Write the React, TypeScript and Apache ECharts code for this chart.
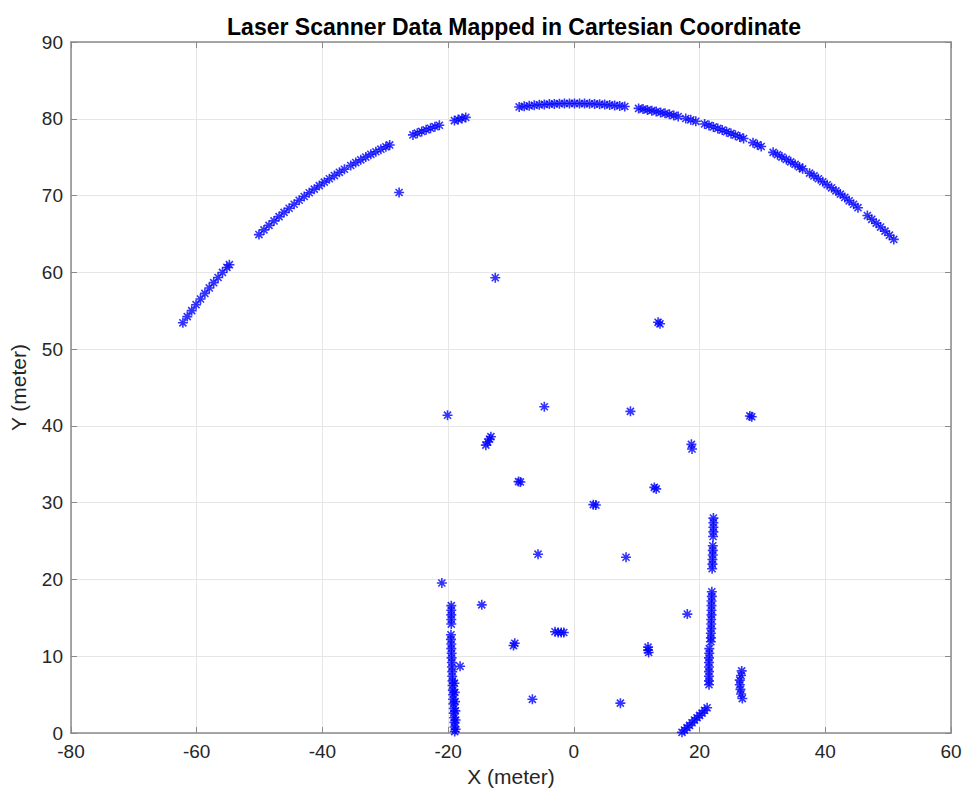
import React, { useEffect, useRef } from "react";
import * as echarts from "echarts";

const titleText = "Laser Scanner Data Mapped in Cartesian Coordinate";
const xName = "X (meter)";
const yName = "Y (meter)";
const xTicks = [-80, -60, -40, -20, 0, 20, 40, 60];
const yTicks = [0, 10, 20, 30, 40, 50, 60, 70, 80, 90];

// Outer arc (far wall), read segment by segment
const arcLeft: [number, number][] = [
  [-62.2, 53.43], [-61.5, 54.24], [-60.8, 55.02], [-60.1, 55.79], [-59.4, 56.53],
  [-58.7, 57.26], [-58.0, 57.97], [-57.3, 58.66], [-56.6, 59.33], [-55.9, 59.99],
  [-55.2, 60.64], [-54.8, 61.0],
  [-50.1, 64.92], [-49.3, 65.53], [-48.5, 66.12], [-47.7, 66.7], [-46.9, 67.26],
  [-46.1, 67.81], [-45.3, 68.35], [-44.5, 68.87], [-43.7, 69.39], [-42.9, 69.88],
  [-42.1, 70.37], [-41.3, 70.84], [-40.5, 71.3], [-39.7, 71.75], [-38.9, 72.19],
  [-38.1, 72.61], [-37.3, 73.03], [-36.5, 73.43], [-35.5, 73.92], [-34.7, 74.3],
  [-33.9, 74.66], [-33.1, 75.02], [-32.3, 75.37], [-31.5, 75.71], [-30.7, 76.04],
  [-29.9, 76.35], [-29.3, 76.59],
  [-25.6, 77.9], [-24.9, 78.13], [-24.2, 78.35], [-23.5, 78.56], [-22.8, 78.77],
  [-22.1, 78.97], [-21.4, 79.16],
  [-19.0, 79.77], [-18.4, 79.91], [-17.8, 80.04], [-17.2, 80.18],
];

const arcTop: [number, number][] = [
  [-8.7, 81.54], [-7.9, 81.62], [-7.1, 81.69], [-6.3, 81.76], [-5.5, 81.82],
  [-4.7, 81.87], [-3.9, 81.91], [-3.1, 81.94], [-2.3, 81.97], [-1.5, 81.99],
  [-0.7, 82.0], [0.1, 82.0], [0.9, 81.99], [1.7, 81.98], [2.5, 81.96],
  [3.3, 81.93], [4.1, 81.9], [4.9, 81.85], [5.7, 81.8], [6.5, 81.74],
  [7.3, 81.67], [8.1, 81.6],
];

const arcRight: [number, number][] = [
  [10.3, 81.35], [11.0, 81.26], [11.7, 81.16], [12.4, 81.06], [13.1, 80.95],
  [13.8, 80.83], [14.5, 80.71], [15.2, 80.58], [15.9, 80.44], [16.6, 80.3],
  [17.8, 80.04], [18.6, 79.86], [19.4, 79.67],
  [20.8, 79.32], [21.5, 79.13], [22.2, 78.94], [22.9, 78.74], [23.6, 78.53],
  [24.3, 78.32], [25.0, 78.1], [25.7, 77.87], [26.4, 77.63], [27.0, 77.43],
  [28.5, 76.89], [29.2, 76.62], [29.8, 76.39],
  [31.7, 75.63], [32.4, 75.33], [33.1, 75.02], [33.8, 74.71], [34.5, 74.39],
  [35.2, 74.06], [35.9, 73.72], [36.4, 73.48],
  [37.5, 72.92], [38.2, 72.56], [38.9, 72.19], [39.6, 71.8], [40.3, 71.41],
  [41.0, 71.01], [41.7, 70.61], [42.4, 70.19], [43.1, 69.76], [43.8, 69.32],
  [44.5, 68.87], [45.2, 68.42],
  [46.7, 67.4], [47.4, 66.91], [48.1, 66.41], [48.8, 65.9], [49.5, 65.37],
  [50.2, 64.84], [50.9, 64.29],
];

// Left wall near x = -19.5
const leftWall: [number, number][] = [
  [-19.5, 16.6], [-19.5, 16.0], [-19.5, 15.4], [-19.5, 14.8], [-19.5, 14.2],
  [-19.55, 12.8], [-19.55, 12.2], [-19.5, 11.6], [-19.5, 11.0], [-19.45, 10.4],
  [-19.45, 9.8], [-19.4, 9.2], [-19.4, 8.6], [-19.35, 8.0], [-19.35, 7.4],
  [-19.3, 6.8], [-19.3, 6.2], [-19.25, 5.6], [-19.2, 5.0], [-19.2, 4.4],
  [-19.15, 3.8], [-19.1, 3.2], [-19.1, 2.6], [-19.05, 2.0], [-19.0, 1.4],
  [-19.0, 0.8], [-18.95, 0.2],
  [-19.0, 6.5], [-18.95, 5.3], [-18.9, 4.1], [-18.85, 2.9], [-18.8, 1.7], [-18.8, 0.5],
];

// Right wall near x = 22
const rightWall: [number, number][] = [
  [22.2, 28.0], [22.2, 27.4], [22.2, 26.8], [22.2, 26.2], [22.15, 25.6],
  [22.1, 24.4], [22.1, 23.8], [22.1, 23.2], [22.05, 22.6], [22.05, 22.0], [22.0, 21.4],
  [21.95, 18.4], [21.95, 17.8], [21.9, 17.2], [21.9, 16.6], [21.9, 16.0],
  [21.9, 15.4], [21.85, 14.8], [21.85, 14.2], [21.85, 13.6], [21.8, 13.0],
  [21.8, 12.4], [21.8, 11.9],
  [21.55, 11.0], [21.55, 10.4], [21.5, 9.8], [21.5, 9.2], [21.5, 8.6],
  [21.5, 8.0], [21.5, 7.4], [21.5, 6.8], [21.5, 6.3],
];

// Object to the right of the wall and the diagonal near the origin
const rightCluster: [number, number][] = [
  [26.7, 8.1], [26.6, 7.5], [26.4, 6.9], [26.4, 6.3], [26.5, 5.7], [26.6, 5.1], [26.8, 4.5],
];
const diagonal: [number, number][] = [
  [17.2, 0.1], [17.6, 0.4], [18.0, 0.7], [18.4, 1.0], [18.8, 1.35], [19.2, 1.7],
  [19.6, 2.0], [20.0, 2.3], [20.4, 2.6], [20.8, 2.95], [21.2, 3.3],
];

// Isolated returns
const scattered: [number, number][] = [
  [-27.8, 70.4], [-12.5, 59.3], [13.4, 53.5], [13.7, 53.3],
  [-20.1, 41.4], [-4.7, 42.5], [9.0, 41.9], [28.0, 41.3], [28.3, 41.2],
  [-14.0, 37.5], [-13.7, 37.9], [-13.4, 38.3], [-13.2, 38.6],
  [18.7, 37.6], [18.8, 37.0],
  [-8.8, 32.75], [-8.5, 32.7],
  [12.8, 32.0], [13.1, 31.8],
  [3.1, 29.75], [3.5, 29.7],
  [-5.7, 23.3], [8.3, 22.9],
  [-21.0, 19.55], [-14.65, 16.7], [18.05, 15.5],
  [-3.0, 13.2], [-2.5, 13.1], [-2.0, 13.1], [-1.6, 13.1],
  [-9.6, 11.4], [-9.4, 11.7],
  [11.8, 11.2], [11.8, 10.8], [11.9, 10.5],
  [-18.1, 8.7],
  [-6.6, 4.4], [7.4, 3.9],
];

const asterisk =
  "path://M0,-10L0,10M-10,0L10,0M-7.07,-7.07L7.07,7.07M-7.07,7.07L7.07,-7.07";

export default function App() {
  const ref = useRef<HTMLDivElement>(null);
  useEffect(() => {
    document.body.style.margin = "0";
    if (!ref.current) return;
    const chart = echarts.init(ref.current, null, { renderer: "svg" });
    const font = "'Liberation Sans', Arial, Helvetica, sans-serif";
    const axisGray = "#8a8a8a";
    const labelColor = "#262626";
    const allPoints = [
      ...arcLeft,
      ...arcTop,
      ...arcRight,
      ...leftWall,
      ...rightWall,
      ...rightCluster,
      ...diagonal,
      ...scattered,
    ];
    const baseX = {
      type: "value" as const,
      min: xTicks[0],
      max: xTicks[xTicks.length - 1],
      interval: 20,
    };
    const baseY = {
      type: "value" as const,
      min: yTicks[0],
      max: yTicks[yTicks.length - 1],
      interval: 10,
    };
    chart.setOption({
      animation: false,
      backgroundColor: "#ffffff",
      title: {
        text: titleText,
        left: 509,
        top: 10,
        textAlign: "center",
        textStyle: {
          fontFamily: font,
          fontWeight: "bold",
          fontSize: 23,
          color: "#000000",
        },
      },
      grid: { left: 66, right: 16, top: 42, bottom: 52, containLabel: false },
      xAxis: [
        {
          ...baseX,
          position: "bottom",
          name: xName,
          nameLocation: "middle",
          nameGap: 22,
          nameTextStyle: { fontFamily: font, fontSize: 21, color: labelColor },
          axisLine: { show: true, onZero: false, lineStyle: { color: axisGray, width: 1.5 } },
          axisTick: { show: true, inside: true, length: 6, lineStyle: { color: axisGray } },
          axisLabel: { fontFamily: font, fontSize: 19, color: labelColor, margin: 9 },
          splitLine: { show: true, lineStyle: { color: "#e6e6e6", width: 1 } },
        },
        {
          ...baseX,
          position: "top",
          axisLine: { show: true, onZero: false, lineStyle: { color: axisGray, width: 1.5 } },
          axisTick: { show: true, inside: true, length: 6, lineStyle: { color: axisGray } },
          axisLabel: { show: false },
          splitLine: { show: false },
        },
      ],
      yAxis: [
        {
          ...baseY,
          position: "left",
          name: yName,
          nameLocation: "middle",
          nameRotate: 90,
          nameGap: 42,
          nameTextStyle: { fontFamily: font, fontSize: 21, color: labelColor },
          axisLine: { show: true, onZero: false, lineStyle: { color: axisGray, width: 1.5 } },
          axisTick: { show: true, inside: true, length: 6, lineStyle: { color: axisGray } },
          axisLabel: { fontFamily: font, fontSize: 19, color: labelColor, margin: 8 },
          splitLine: { show: true, lineStyle: { color: "#e6e6e6", width: 1 } },
        },
        {
          ...baseY,
          position: "right",
          axisLine: { show: true, onZero: false, lineStyle: { color: axisGray, width: 1.5 } },
          axisTick: { show: true, inside: true, length: 6, lineStyle: { color: axisGray } },
          axisLabel: { show: false },
          splitLine: { show: false },
        },
      ],
      series: [
        {
          type: "scatter",
          xAxisIndex: 0,
          yAxisIndex: 0,
          symbol: asterisk,
          symbolSize: 10,
          data: allPoints,
          itemStyle: { color: "#0000ff", borderColor: "#0000ff", borderWidth: 1.6 },
          emphasis: { disabled: true },
        },
      ],
    });
    return () => chart.dispose();
  }, []);
  return <div ref={ref} style={{ width: 967, height: 792 }} />;
}
